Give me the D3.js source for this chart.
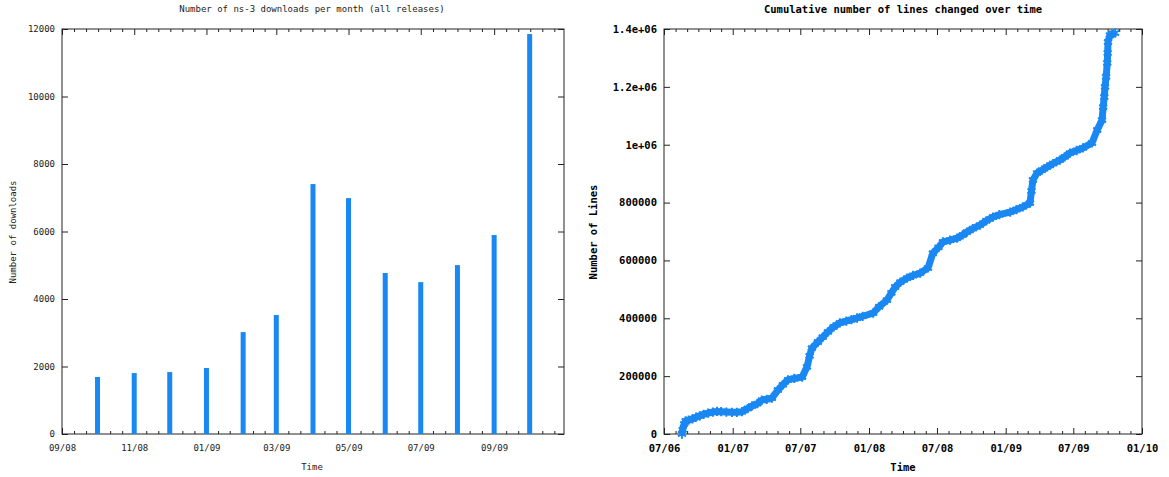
<!DOCTYPE html>
<meta charset="utf-8">
<style>
body { margin: 0; background: #fff; }
.left text { font: 9px "DejaVu Sans Mono", monospace; fill: #222; }
.right text { font: bold 10.5px "DejaVu Sans Mono", monospace; fill: #000; }
.frame { fill: none; stroke: #222; stroke-width: 1px; }
.tick line { stroke: #222; }
</style>
<body>
<script src="https://d3js.org/d3.v7.min.js"></script>
<svg id="chart" width="1169" height="477"></svg>
<script>

var parse = d3.timeParse("%Y-%m-%d");

// left: monthly downloads
var dlMonths = ["2008-10-01", "2008-11-01", "2008-12-01", "2009-01-01", "2009-02-01", "2009-03-01",
                "2009-04-01", "2009-05-01", "2009-06-01", "2009-07-01", "2009-08-01", "2009-09-01", "2009-10-01"];
var dlCounts = [1690, 1805, 1835, 1955, 3020, 3525, 7405, 6990, 4770, 4500, 5005, 5895, 11850];
var dlYTicks = [0, 2000, 4000, 6000, 8000, 10000, 12000];

// right: cumulative lines changed
var locDates = ["2006-08-18", "2006-08-20", "2006-08-24", "2006-08-28", "2006-09-05", "2006-09-15", "2006-09-25",
  "2006-10-05", "2006-10-15", "2006-10-27", "2006-11-09", "2006-11-20", "2006-12-01", "2006-12-15", "2006-12-30",
  "2007-01-12", "2007-01-26", "2007-02-10", "2007-02-22", "2007-03-08", "2007-03-20", "2007-04-02", "2007-04-16",
  "2007-05-02", "2007-05-15", "2007-05-29", "2007-06-15", "2007-07-06", "2007-07-19", "2007-07-26", "2007-08-01",
  "2007-08-17", "2007-08-30", "2007-09-13", "2007-09-28", "2007-10-15", "2007-11-01", "2007-11-15", "2007-11-30",
  "2007-12-15", "2008-01-12", "2008-01-28", "2008-02-18", "2008-03-01", "2008-03-11", "2008-03-25", "2008-04-12",
  "2008-04-28", "2008-05-17", "2008-06-07", "2008-06-20", "2008-07-05", "2008-07-17", "2008-08-05", "2008-08-24",
  "2008-09-08", "2008-09-19", "2008-10-05", "2008-10-24", "2008-11-10", "2008-11-28", "2008-12-15", "2009-01-13",
  "2009-01-30", "2009-02-16", "2009-03-07", "2009-03-11", "2009-03-15", "2009-03-26", "2009-04-08", "2009-04-22",
  "2009-05-08", "2009-05-26", "2009-06-08", "2009-06-22", "2009-07-10", "2009-07-27", "2009-08-20", "2009-09-03",
  "2009-09-16", "2009-09-19", "2009-09-22", "2009-09-24", "2009-09-27", "2009-09-30", "2009-10-01", "2009-10-02",
  "2009-10-07", "2009-10-14", "2009-10-21"];
var locValues = [0, 15000, 35000, 45000, 48000, 52000, 58000,
  63000, 68000, 72000, 76000, 78000, 77000, 76000, 75000,
  75000, 77000, 88000, 97000, 105000, 117000, 120000, 124000,
  152000, 170000, 187000, 192000, 197000, 232000, 270000, 297000,
  318000, 335000, 353000, 370000, 384000, 390000, 395000, 401000,
  407000, 418000, 440000, 463000, 488000, 508000, 525000, 539000,
  548000, 556000, 574000, 625000, 645000, 664000, 670000, 677000,
  688000, 698000, 710000, 722000, 737000, 750000, 758000, 767000,
  776000, 785000, 798000, 840000, 878000, 902000, 912000, 923000,
  935000, 947000, 958000, 971000, 980000, 989000, 1006000, 1051000,
  1085000, 1130000, 1165000, 1200000, 1235000, 1283000, 1317000, 1355000,
  1379000, 1383000, 1386000];
var locYTicks = [0, 200000, 400000, 600000, 800000, 1000000, 1200000, 1400000];
var locYLabels = ["0", "200000", "400000", "600000", "800000", "1e+06", "1.2e+06", "1.4e+06"];

var blue = "#1a88f2";
var svg = d3.select("#chart");

// ---------- left chart ----------
var L = {left: 62, right: 564, top: 29, bottom: 434};
var gl = svg.append("g").attr("class", "left");

var xL = d3.scaleTime()
    .domain([parse("2008-09-01"), parse("2009-10-30")])
    .range([L.left, L.right]);
var yL = d3.scaleLinear().domain([0, 12000]).range([L.bottom, L.top]);

var majorL = d3.timeMonth.every(2).range(parse("2008-09-01"), parse("2009-10-30"));
var minorL = [];
majorL.forEach(function(d) {
  var next = d3.timeMonth.offset(d, 2);
  for (var k = 1; k < 6; k++) minorL.push(new Date(+d + (next - d) * k / 6));
});
minorL = minorL.filter(function(d) { return d < xL.domain()[1]; });

drawFrame(gl, L, xL, yL, majorL, minorL, dlYTicks, d3.timeFormat("%m/%y"), function(d) { return d; });

gl.selectAll(".bar")
    .data(dlMonths)
  .enter().append("rect")
    .attr("class", "bar")
    .attr("x", function(d) { return xL(parse(d)) - 2.5; })
    .attr("width", 5)
    .attr("y", function(d, i) { return yL(dlCounts[i]); })
    .attr("height", function(d, i) { return L.bottom - yL(dlCounts[i]); })
    .style("fill", blue);

gl.append("text").attr("x", 312).attr("y", 12).attr("text-anchor", "middle")
    .text("Number of ns-3 downloads per month (all releases)");
gl.append("text").attr("x", 312).attr("y", 470).attr("text-anchor", "middle").text("Time");
gl.append("text").attr("transform", "translate(16,232) rotate(-90)").attr("text-anchor", "middle")
    .text("Number of downloads");

// ---------- right chart ----------
var R = {left: 664, right: 1142, top: 29, bottom: 434};
var gr = svg.append("g").attr("class", "right");

var xR = d3.scaleTime()
    .domain([parse("2006-07-01"), parse("2010-01-01")])
    .range([R.left, R.right]);
var yR = d3.scaleLinear().domain([0, 1400000]).range([R.bottom, R.top]);

var majorR = d3.timeMonth.every(6).range(parse("2006-07-01"), parse("2010-01-02"));
var minorR = d3.timeMonth.every(1).range(parse("2006-07-01"), parse("2010-01-01"))
    .filter(function(d) { return d.getMonth() % 6 != 0; });

drawFrame(gr, R, xR, yR, majorR, minorR, locYTicks, d3.timeFormat("%m/%y"),
    function(d, i) { return locYLabels[i]; });

var pts = locDates.map(function(d, i) { return [xR(parse(d)), yR(locValues[i])]; });

gr.append("path")
    .attr("d", d3.line()(pts))
    .style("fill", "none")
    .style("stroke", blue)
    .style("stroke-width", 7)
    .style("stroke-linejoin", "round");

gr.selectAll(".pt")
    .data(pts)
  .enter().append("path")
    .attr("class", "pt")
    .attr("transform", function(d) { return "translate(" + d[0] + "," + d[1] + ")"; })
    .attr("d", d3.symbol().type(d3.symbolAsterisk).size(60))
    .style("fill", "none")
    .style("stroke", blue)
    .style("stroke-width", 2);

gr.append("text").attr("x", 903).attr("y", 13).attr("text-anchor", "middle")
    .text("Cumulative number of lines changed over time");
gr.append("text").attr("x", 903).attr("y", 471).attr("text-anchor", "middle").text("Time");
gr.append("text").attr("transform", "translate(597,232) rotate(-90)").attr("text-anchor", "middle")
    .text("Number of Lines");

// frame with inward ticks on all four sides, gnuplot style
function drawFrame(g, m, x, y, major, minor, yticks, xfmt, yfmt) {
  g.append("g")
      .attr("transform", "translate(0," + m.bottom + ")")
      .call(d3.axisBottom(x).tickValues(major).tickSize(-6).tickPadding(11).tickFormat(xfmt))
      .select(".domain").remove();
  g.append("g")
      .attr("transform", "translate(0," + m.bottom + ")")
      .call(d3.axisBottom(x).tickValues(minor).tickSize(-3).tickFormat(""))
      .select(".domain").remove();
  g.append("g")
      .attr("transform", "translate(0," + m.top + ")")
      .call(d3.axisTop(x).tickValues(major).tickSize(-6).tickFormat(""))
      .select(".domain").remove();
  g.append("g")
      .attr("transform", "translate(0," + m.top + ")")
      .call(d3.axisTop(x).tickValues(minor).tickSize(-3).tickFormat(""))
      .select(".domain").remove();
  g.append("g")
      .attr("transform", "translate(" + m.left + ",0)")
      .call(d3.axisLeft(y).tickValues(yticks).tickSize(-6).tickPadding(7).tickFormat(yfmt))
      .select(".domain").remove();
  g.append("g")
      .attr("transform", "translate(" + m.right + ",0)")
      .call(d3.axisRight(y).tickValues(yticks).tickSize(-6).tickFormat(""))
      .select(".domain").remove();
  g.append("rect")
      .attr("class", "frame")
      .attr("x", m.left).attr("y", m.top)
      .attr("width", m.right - m.left).attr("height", m.bottom - m.top);
  g.selectAll(".tick text").attr("font-family", null).attr("font-size", null);
}

</script>
</body>
